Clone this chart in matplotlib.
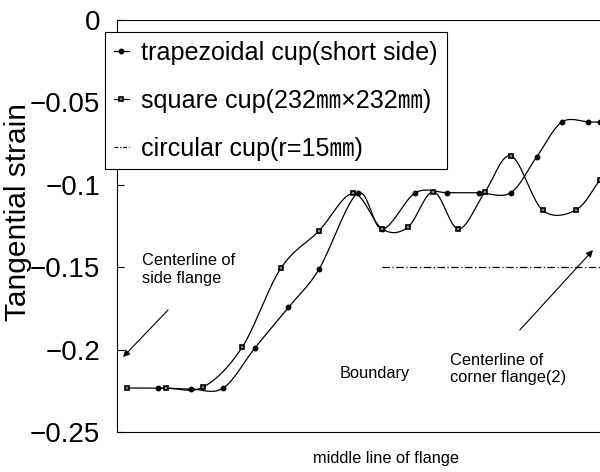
import numpy as np
import matplotlib
matplotlib.use("Agg")
import matplotlib.pyplot as plt
from matplotlib import font_manager

# values (x: position along the middle line of flange, 0-100)
trap_x = [8.5, 15.3, 22.0, 28.6, 35.5, 41.8, 49.8, 54.9, 61.8, 68.4, 74.9, 81.5, 86.9, 92.1, 97.6, 100.0]
trap_y = [-0.2233, -0.2239, -0.2233, -0.1988, -0.1743, -0.1513, -0.1052, -0.1268,
          -0.1048, -0.1048, -0.1048, -0.1048, -0.0830, -0.0619, -0.0619, -0.0620]

square_x = [2.0, 10.06, 17.85, 25.9, 33.9, 41.8, 48.9, 54.9, 60.2, 65.5, 70.7, 76.2, 81.6, 88.1, 95.0, 100.0]
square_y = [-0.2233, -0.2233, -0.2227, -0.1986, -0.1507, -0.1280, -0.1052, -0.1268,
            -0.1258, -0.1042, -0.1268, -0.1042, -0.0825, -0.1153, -0.1153, -0.0971]

circ_x = [54.8, 100.0]
circ_y = [-0.15, -0.15]

labels = ["trapezoidal cup(short side)", "square cup(232\u339c\u00d7232\u339c)", "circular cup(r=15\u339c)"]
yticks = [0, -0.05, -0.1, -0.15, -0.2, -0.25]
ytick_labels = ["0", "\u22120.05", "\u22120.1", "\u22120.15", "\u22120.2", "\u22120.25"]

installed = {f.name for f in font_manager.fontManager.ttflist}
narrow = "Liberation Sans Narrow" if "Liberation Sans Narrow" in installed else "Liberation Sans"
scale = 1.0 if narrow == "Liberation Sans Narrow" else 0.84


def smooth(x, y, n=20):
    # Catmull-Rom curve through the points (like spreadsheet "smoothed line")
    x = np.asarray(x, float)
    y = np.asarray(y, float)
    px = np.concatenate([[2 * x[0] - x[1]], x, [2 * x[-1] - x[-2]]])
    py = np.concatenate([[2 * y[0] - y[1]], y, [2 * y[-1] - y[-2]]])
    t = np.linspace(0, 1, n)
    xs, ys = [], []
    for i in range(1, len(px) - 2):
        for p, out in ((px, xs), (py, ys)):
            p0, p1, p2, p3 = p[i - 1], p[i], p[i + 1], p[i + 2]
            out.append(0.5 * ((2 * p1) + (-p0 + p2) * t + (2 * p0 - 5 * p1 + 4 * p2 - p3) * t ** 2
                              + (-p0 + 3 * p1 - 3 * p2 + p3) * t ** 3))
    return np.concatenate(xs), np.concatenate(ys)


fig = plt.figure(figsize=(6, 4.72), dpi=100)
ax = fig.add_axes([0.195, 0.0847, 0.805, 0.8729])

sx, sy = smooth(trap_x, trap_y)
ax.plot(sx, sy, color="black", lw=0.9)
ax.plot(trap_x, trap_y, ls="none", marker="o", ms=3.2, color="black")
sx, sy = smooth(square_x, square_y)
ax.plot(sx, sy, color="black", lw=0.9)
ax.plot(square_x, square_y, ls="none", marker="s", ms=3.5, mfc="#888888", mec="black", mew=1.2)
ax.plot(circ_x, circ_y, color="black", lw=0.9, dashes=[6, 2, 1, 2])

# legend handles
h1, = ax.plot([], [], color="black", lw=0.9, marker="o", ms=3.2)
h2, = ax.plot([], [], color="black", lw=0.9, marker="s", ms=3.5, mfc="#888888", mew=1.2)
h3, = ax.plot([], [], color="black", lw=0.9, dashes=[3, 1.5, 1, 1.5])
leg = fig.legend([h1, h2, h3], labels, loc="upper left", bbox_to_anchor=(0.175, 0.932),
                 prop={"family": [narrow, "Noto Sans CJK JP"], "size": 21.5 * scale},
                 frameon=True, fancybox=False, edgecolor="black", framealpha=1,
                 handlelength=0.6, handletextpad=0.5, labelspacing=0.95, borderpad=0.35,
                 borderaxespad=0)
leg.get_frame().set_linewidth(0.8)

ax.set_xlim(0, 100)
ax.set_ylim(-0.25, 0)
ax.set_yticks(yticks)
ax.set_yticklabels(ytick_labels, family="Liberation Sans", fontsize=20)
ax.set_xticks([])
ax.tick_params(axis="y", direction="in", length=5, pad=12)
ax.spines["right"].set_visible(False)
for s in ["left", "top", "bottom"]:
    ax.spines[s].set_linewidth(0.8)

ax.set_ylabel("Tangential strain", family="Liberation Sans", fontsize=21.5)
ax.yaxis.set_label_coords(-0.175, 0.535)
ax.set_xlabel("middle line of flange", family=narrow, fontsize=14 * scale)
ax.xaxis.set_label_coords(0.557, -0.045)

afont = {"family": narrow, "fontsize": 14 * scale}
ax.text(5.1, -0.1514, "Centerline of\nside flange", ha="left", va="center", **afont)
ax.text(53.4, -0.2142, "Boundary", ha="center", va="center", **afont)
ax.text(68.9, -0.2118, "Centerline of\ncorner flange(2)", ha="left", va="center", **afont)
arrow = dict(arrowstyle="-|>", color="black", lw=0.8, mutation_scale=10, shrinkA=0, shrinkB=0)
ax.annotate("", xy=(1.24, -0.2045), xytext=(10.56, -0.176), arrowprops=arrow)
ax.annotate("", xy=(98.55, -0.1396), xytext=(83.4, -0.1881), arrowprops=arrow)

fig.savefig("out.png", dpi=100)
